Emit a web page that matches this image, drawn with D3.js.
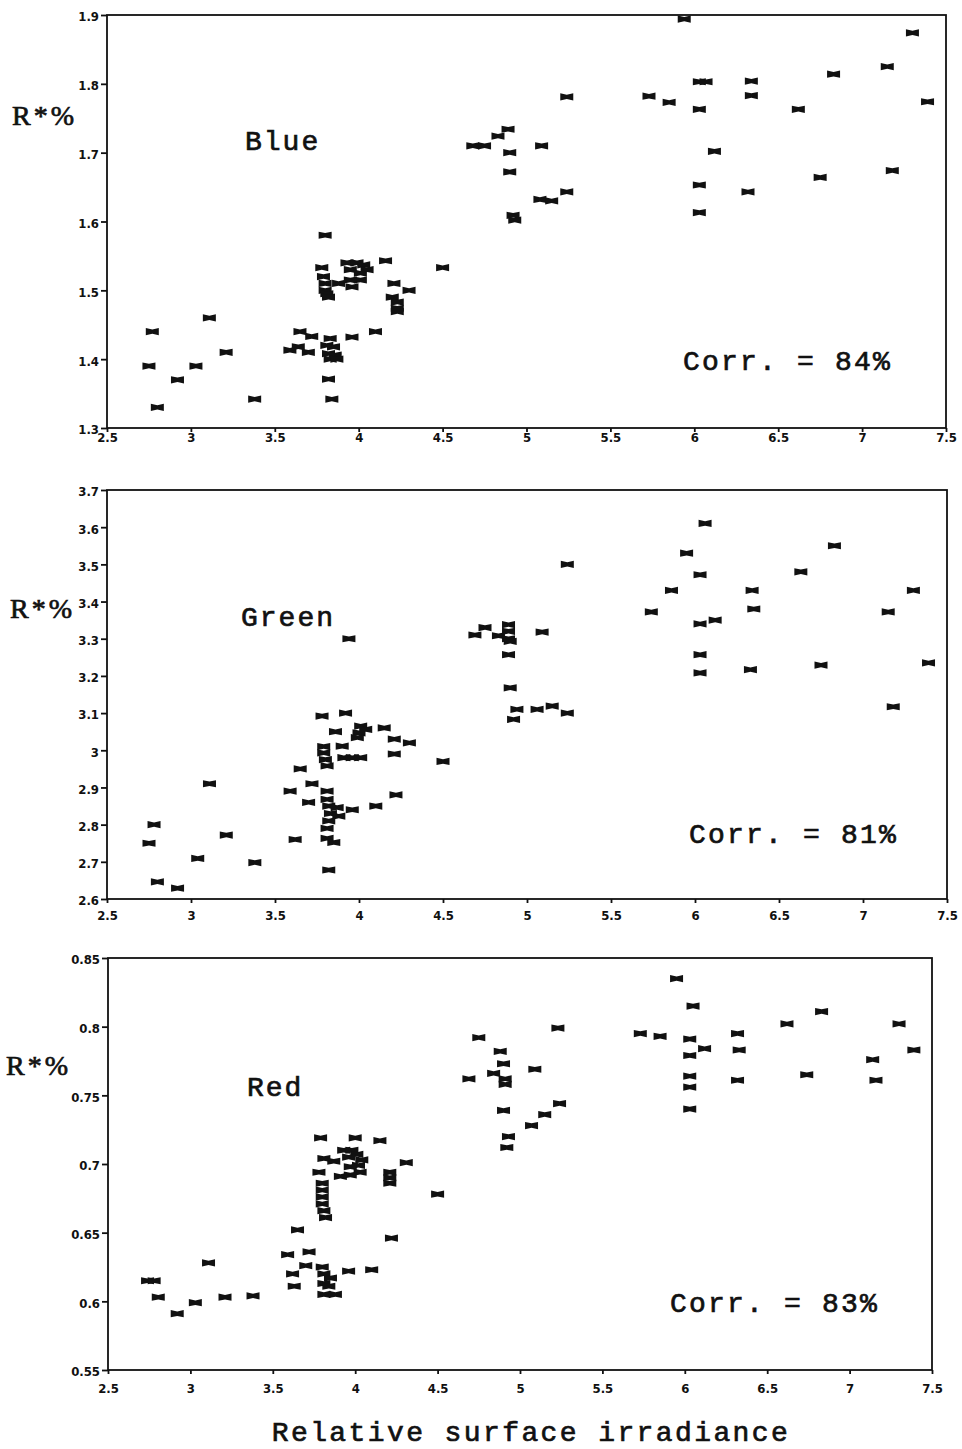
<!DOCTYPE html>
<html>
<head>
<meta charset="utf-8">
<script src="https://cdn.jsdelivr.net/npm/d3@7"></script>
<style>
  body { margin: 0; background: #fff; }
  .tick text { font-family: "DejaVu Sans Condensed", "DejaVu Sans", sans-serif; font-weight: bold; font-size: 13px; fill: #111; }
  .big { font-family: "Liberation Mono", "DejaVu Sans Mono", monospace; fill: #111; stroke: #111; stroke-width: 0.7px; }
</style>
</head>
<body>
<div id="my_dataviz"></div>
<script>
// tick labels shared by all panels
const xTicks = [2.5, 3, 3.5, 4, 4.5, 5, 5.5, 6, 6.5, 7, 7.5]
const blueTicks = [1.3, 1.4, 1.5, 1.6, 1.7, 1.8, 1.9]
const greenTicks = [2.6, 2.7, 2.8, 2.9, 3, 3.1, 3.2, 3.3, 3.4, 3.5, 3.6, 3.7]
const redTicks = [0.55, 0.6, 0.65, 0.7, 0.75, 0.8, 0.85]

// Blue band: relative surface irradiance / R*%
const blueX = [2.77, 2.75, 2.80, 2.92, 3.03, 3.11, 3.21, 3.38, 3.80, 3.78, 3.79, 3.80, 3.80, 3.81, 3.82,
  3.88, 3.93, 3.99, 4.03, 3.95, 4.01, 4.05, 3.96, 4.01, 3.95, 4.16, 4.50, 4.21, 4.30, 4.20, 4.23, 4.23, 4.23,
  3.65, 3.72, 3.59, 3.64, 3.70, 3.83, 3.81, 3.85, 3.82, 3.86, 3.83, 3.87, 3.96, 4.10, 3.82, 3.84,
  4.68, 4.75, 4.83, 4.89, 4.90, 4.90, 4.92, 4.93, 5.09, 5.08, 5.15, 5.24, 5.24, 5.73, 5.85, 5.94,
  6.03, 6.07, 6.03, 6.03, 6.03, 6.12, 6.34, 6.34, 6.32, 6.62, 6.75, 6.83, 7.15, 7.18, 7.30, 7.39]
const blueR = [1.44, 1.39, 1.33, 1.37, 1.39, 1.46, 1.41, 1.342, 1.58, 1.533, 1.52, 1.51, 1.50, 1.495, 1.49,
  1.51, 1.54, 1.54, 1.537, 1.53, 1.525, 1.53, 1.505, 1.515, 1.515, 1.543, 1.533, 1.51, 1.50, 1.49, 1.483, 1.474, 1.469,
  1.44, 1.433, 1.413, 1.418, 1.41, 1.43, 1.42, 1.418, 1.408, 1.406, 1.40, 1.40, 1.432, 1.44, 1.371, 1.342,
  1.71, 1.71, 1.724, 1.734, 1.70, 1.672, 1.609, 1.602, 1.71, 1.632, 1.63, 1.643, 1.781, 1.782, 1.773, 1.894,
  1.803, 1.803, 1.763, 1.653, 1.613, 1.702, 1.804, 1.783, 1.643, 1.763, 1.664, 1.814, 1.825, 1.674, 1.874, 1.774]

// Green band
const greenX = [2.78, 2.75, 2.80, 2.92, 3.04, 3.11, 3.21, 3.38, 3.94, 3.78, 3.92, 3.86, 4.01, 4.00, 3.99,
  4.04, 4.15, 4.21, 4.30, 4.21, 3.90, 3.79, 3.79, 3.80, 3.81, 3.91, 3.96, 4.01, 4.50, 3.65, 3.72, 3.59,
  3.70, 3.81, 3.81, 3.82, 3.87, 3.83, 3.88, 3.82, 3.81, 3.96, 4.10, 4.22, 3.62, 3.81, 3.85, 3.82,
  4.69, 4.75, 4.83, 4.89, 4.89, 4.89, 4.90, 5.09, 4.89, 4.90, 4.94, 4.92, 5.06, 5.15, 5.24, 5.24,
  5.74, 5.86, 5.95, 6.06, 6.03, 6.03, 6.12, 6.03, 6.03, 6.34, 6.35, 6.33, 6.63, 6.75, 6.83, 7.15, 7.18, 7.30, 7.39]
const greenR = [2.80, 2.75, 2.646, 2.629, 2.709, 2.91, 2.772, 2.698, 3.30, 3.092, 3.10, 3.05, 3.065, 3.047, 3.034,
  3.056, 3.06, 3.03, 3.02, 2.99, 3.011, 3.01, 2.993, 2.975, 2.958, 2.98, 2.98, 2.98, 2.97, 2.95, 2.91, 2.89,
  2.86, 2.89, 2.868, 2.85, 2.846, 2.83, 2.823, 2.81, 2.79, 2.84, 2.85, 2.88, 2.76, 2.763, 2.752, 2.678,
  3.31, 3.33, 3.308, 3.338, 3.32, 3.30, 3.293, 3.318, 3.257, 3.168, 3.11, 3.083, 3.11, 3.119, 3.10, 3.50,
  3.372, 3.43, 3.53, 3.61, 3.472, 3.34, 3.35, 3.257, 3.208, 3.43, 3.38, 3.217, 3.48, 3.229, 3.55, 3.372, 3.117, 3.43, 3.235]

// Red band
const redX = [2.74, 2.78, 2.805, 2.92, 3.03, 3.11, 3.21, 3.38, 3.59, 3.65, 3.72, 3.70, 3.62, 3.63,
  3.79, 4.00, 4.15, 4.31, 3.81, 3.87, 3.93, 3.98, 4.01, 3.96, 4.04, 4.02, 3.97, 4.03, 3.91, 3.97,
  3.78, 3.80, 3.80, 3.80, 3.80, 3.81, 3.82, 4.21, 4.21, 4.21, 4.22, 4.50,
  3.80, 3.81, 3.85, 3.81, 3.84, 3.81, 3.88, 3.96, 4.10,
  4.69, 4.75, 4.84, 4.88, 4.90, 4.91, 4.91, 4.90, 4.93, 4.92, 5.07, 5.15, 5.24, 5.09, 5.23,
  5.73, 5.85, 5.95, 6.05, 6.03, 6.03, 6.12, 6.03, 6.03, 6.03, 6.32, 6.33, 6.32, 6.62, 6.74, 6.83, 7.14, 7.16, 7.30, 7.39]
const redR = [0.615, 0.615, 0.603, 0.591, 0.599, 0.628, 0.603, 0.604, 0.634, 0.652, 0.636, 0.626, 0.620, 0.611,
  0.719, 0.719, 0.717, 0.701, 0.704, 0.702, 0.710, 0.710, 0.707, 0.705, 0.703, 0.699, 0.698, 0.694, 0.691, 0.692,
  0.694, 0.686, 0.681, 0.676, 0.671, 0.666, 0.661, 0.694, 0.690, 0.686, 0.646, 0.678,
  0.625, 0.620, 0.617, 0.613, 0.611, 0.605, 0.605, 0.622, 0.623,
  0.762, 0.792, 0.766, 0.782, 0.773, 0.762, 0.758, 0.739, 0.720, 0.712, 0.728, 0.736, 0.744, 0.769, 0.799,
  0.795, 0.793, 0.835, 0.815, 0.791, 0.779, 0.784, 0.764, 0.756, 0.740, 0.795, 0.783, 0.761, 0.802, 0.765, 0.811, 0.776, 0.761, 0.802, 0.783]

const bandNames = ["Blue", "Green", "Red"]
const corrLabels = ["Corr. = 84%", "Corr. = 81%", "Corr. = 83%"]

// panel frames (pixel layout)
const panels = [
  { x: blueX, y: blueR, ticks: blueTicks, left: 107, top: 15, right: 946, bottom: 428, xlab: 13,
    name: [245, 150], corr: [683, 370], rlab: [12, 125] },
  { x: greenX, y: greenR, ticks: greenTicks, left: 107, top: 490, right: 947, bottom: 899, xlab: 20,
    name: [241, 626], corr: [689, 843], rlab: [10, 618] },
  { x: redX, y: redR, ticks: redTicks, left: 108, top: 958, right: 932, bottom: 1370, xlab: 22,
    name: [247, 1096], corr: [670, 1312], rlab: [6, 1075] }
]

const W = 962, H = 1449

const svg = d3.select("#my_dataviz")
  .append("svg")
  .attr("width", W)
  .attr("height", H)

// bow-tie marker
const bowtie = "M-6.5,-3.6 L0,-2.2 L6.5,-3.6 L6.5,3.6 L0,2.2 L-6.5,3.6 Z"

panels.forEach(function (p, i) {
  const x = d3.scaleLinear().domain([2.5, 7.5]).range([p.left, p.right])
  const y = d3.scaleLinear().domain(d3.extent(p.ticks)).range([p.bottom, p.top])

  // frame
  svg.append("rect")
    .attr("x", p.left).attr("y", p.top)
    .attr("width", p.right - p.left).attr("height", p.bottom - p.top)
    .attr("fill", "none").attr("stroke", "#111").attr("stroke-width", 1.8)

  // X axis
  const gx = svg.append("g")
    .attr("transform", `translate(0, ${p.bottom})`)
    .call(d3.axisBottom(x).tickValues(xTicks).tickSize(4).tickPadding(p.xlab - 12)
      .tickFormat(d3.format("")))
  gx.select(".domain").remove()
  gx.selectAll(".tick line").attr("stroke", "#111").attr("stroke-width", 1.8)

  // Y axis
  const gy = svg.append("g")
    .attr("transform", `translate(${p.left}, 0)`)
    .call(d3.axisLeft(y).tickValues(p.ticks).tickSize(6).tickPadding(2)
      .tickFormat(d3.format("")))
  gy.select(".domain").remove()
  gy.selectAll(".tick line").attr("stroke", "#111").attr("stroke-width", 1.8)
  gy.selectAll(".tick text").attr("dy", "0.45em")

  // points
  const pts = p.x.map((v, k) => [v, p.y[k]])
  svg.append("g")
    .selectAll("path")
    .data(pts)
    .join("path")
    .attr("d", bowtie)
    .attr("transform", d => `translate(${x(d[0])}, ${y(d[1])})`)
    .attr("fill", "#111")

  // labels
  svg.append("text").attr("class", "big")
    .attr("x", p.name[0]).attr("y", p.name[1])
    .style("font-size", "28px").style("letter-spacing", "2px")
    .text(bandNames[i])

  svg.append("text").attr("class", "big")
    .attr("x", p.corr[0]).attr("y", p.corr[1])
    .style("font-size", "28px").style("letter-spacing", "2.2px")
    .text(corrLabels[i])

  svg.append("text").attr("class", "big")
    .attr("x", p.rlab[0]).attr("y", p.rlab[1])
    .style("font-size", "28px").style("font-family", "'Liberation Serif', serif")
    .style("letter-spacing", "3px")
    .text("R*%")
})

// X axis title
svg.append("text").attr("class", "big")
  .attr("x", 531).attr("y", 1441)
  .attr("text-anchor", "middle")
  .style("font-size", "28px").style("letter-spacing", "2.4px")
  .text("Relative surface irradiance")
</script>
</body>
</html>
